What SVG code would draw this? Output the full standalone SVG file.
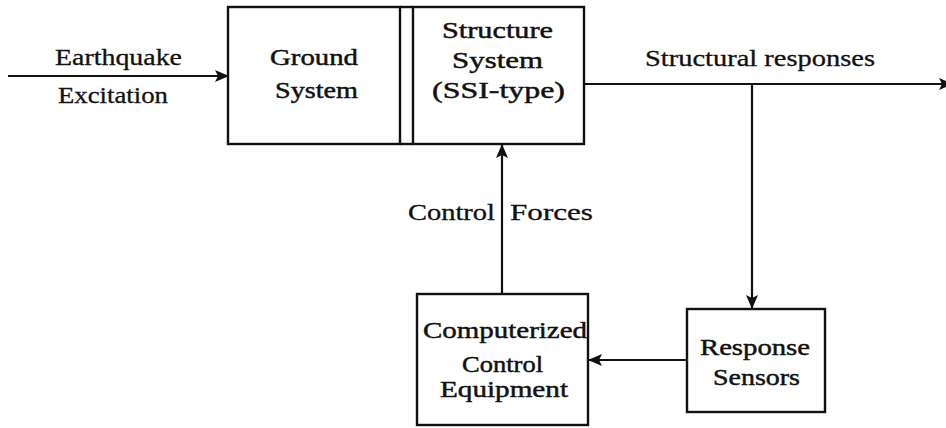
<svg xmlns="http://www.w3.org/2000/svg" width="946" height="428" viewBox="0 0 946 428">
  <style>
    .box { fill: #ffffff; stroke: #111111; stroke-width: 2.4; }
    .wire { fill: none; stroke: #111111; stroke-width: 2.2; }
    text { font-family: "Liberation Serif", "Times New Roman", serif; font-size: 23px; fill: #111111; stroke: #111111; stroke-width: 0.3; }
    .lbl { stroke-width: 0.45; }
  </style>
  <defs>
    <marker id="head" viewBox="0 0 14 12" refX="13" refY="6" markerWidth="14" markerHeight="12" markerUnits="userSpaceOnUse" orient="auto">
      <path d="M0,0 L14,6 L0,12 L3,6 Z" fill="#111111"/>
    </marker>
  </defs>
  <rect width="946" height="428" fill="#ffffff"/>

  <!-- connectors and their labels -->
  <g id="connectors">
    <line class="wire" x1="8" y1="76" x2="228" y2="76" marker-end="url(#head)"/>
    <line class="wire" x1="584" y1="84" x2="952" y2="84" marker-end="url(#head)"/>
    <line class="wire" x1="752" y1="84" x2="752" y2="308" marker-end="url(#head)"/>
    <line class="wire" x1="687" y1="360" x2="589" y2="360" marker-end="url(#head)"/>
    <line class="wire" x1="502" y1="294" x2="502" y2="145" marker-end="url(#head)"/>
    <text x="55" y="65" textLength="127" lengthAdjust="spacingAndGlyphs">Earthquake</text>
    <text x="58" y="103" textLength="110" lengthAdjust="spacingAndGlyphs">Excitation</text>
    <text x="645" y="66" textLength="230" lengthAdjust="spacingAndGlyphs">Structural responses</text>
    <text x="408" y="220" textLength="87" lengthAdjust="spacingAndGlyphs">Control</text>
    <text x="510" y="220" textLength="83" lengthAdjust="spacingAndGlyphs">Forces</text>
  </g>

  <!-- ground system -->
  <g id="ground">
    <rect class="box" x="228" y="7" width="172" height="137"/>
    <text class="lbl" x="270" y="65" textLength="88" lengthAdjust="spacingAndGlyphs">Ground</text>
    <text class="lbl" x="275" y="98" textLength="83" lengthAdjust="spacingAndGlyphs">System</text>
  </g>

  <!-- structure system, joined to the ground block by a double wall -->
  <g id="structure">
    <rect class="box" x="413" y="7" width="171" height="137"/>
    <line class="box" x1="400" y1="7" x2="413" y2="7"/>
    <line class="box" x1="400" y1="144" x2="413" y2="144"/>
    <text class="lbl" x="442" y="38" textLength="111" lengthAdjust="spacingAndGlyphs">Structure</text>
    <text class="lbl" x="452" y="68" textLength="91" lengthAdjust="spacingAndGlyphs">System</text>
    <text class="lbl" x="432" y="98" textLength="133" lengthAdjust="spacingAndGlyphs">(SSI-type)</text>
  </g>

  <!-- controller -->
  <g id="controller">
    <rect class="box" x="417" y="294" width="171" height="131"/>
    <text class="lbl" x="423" y="338" textLength="164" lengthAdjust="spacingAndGlyphs">Computerized</text>
    <text class="lbl" x="462" y="372" textLength="81" lengthAdjust="spacingAndGlyphs">Control</text>
    <text class="lbl" x="440" y="397" textLength="128" lengthAdjust="spacingAndGlyphs">Equipment</text>
  </g>

  <!-- sensors -->
  <g id="sensors">
    <rect class="box" x="687" y="309" width="138" height="103"/>
    <text class="lbl" x="700" y="355" textLength="110" lengthAdjust="spacingAndGlyphs">Response</text>
    <text class="lbl" x="713" y="385" textLength="87" lengthAdjust="spacingAndGlyphs">Sensors</text>
  </g>
</svg>
